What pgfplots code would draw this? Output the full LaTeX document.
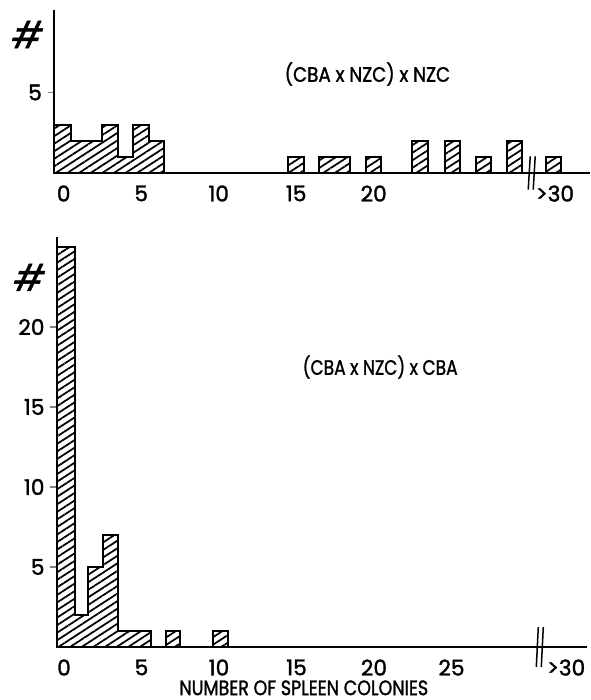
\documentclass[border=0pt]{standalone}
\usepackage{pgfplots}
\pgfplotsset{compat=1.18}
\usetikzlibrary{patterns.meta}
\usepackage{fontspec}
\setmainfont{Poppins}[UprightFeatures={FakeBold=1.5}]
\begin{document}
\begin{tikzpicture}
\useasboundingbox (-38.2pt,-31.8pt) rectangle (315.8pt,388.2pt);
\tikzset{hatch/.style={draw=black, line width=1.2pt,
  pattern={Lines[angle=33, distance=3.8pt, line width=1.05pt]}, pattern color=black}}
\pgfplotsset{
  every axis/.append style={
    axis x line=bottom, axis y line=left,
    axis line style={-, line width=1.1pt},
    x=9.3pt, clip=false,
    /pgf/number format/assume math mode=true,
    tick label style={font=\fontsize{13}{14}\selectfont},
    xtick style={draw=none},
    ytick style={line width=1pt},
    tick align=outside, major tick length=4pt,
    ymin=0, anchor=origin,
  }
}
% ---------------- top panel ----------------
\begin{axis}[at={(0,284.4pt)}, y=9.66pt,
  xmin=-0.6, xmax=33.97, ymax=10.1,
  ytick={5},
  xtick={0,5,10,15,20,31.7},
  xticklabels={0,5,10,15,20,{>30}},
]
\addplot[hatch, const plot] coordinates {(-0.6,3)(0.5,2)(1.5,2)(2.5,3)(3.5,1)(4.5,3)(5.5,2)(6.5,2)} \closedcycle;
\addplot[hatch, const plot] coordinates {(14.5,1)(15.5,1)} \closedcycle;
\addplot[hatch, const plot] coordinates {(16.5,1)(17.5,1)(18.5,1)} \closedcycle;
\addplot[hatch, const plot] coordinates {(19.5,1)(20.5,1)} \closedcycle;
\addplot[hatch, const plot] coordinates {(22.5,2)(23.5,2)} \closedcycle;
\addplot[hatch, const plot] coordinates {(24.6,2)(25.6,2)} \closedcycle;
\addplot[hatch, const plot] coordinates {(26.6,1)(27.6,1)} \closedcycle;
\addplot[hatch, const plot] coordinates {(28.6,2)(29.6,2)} \closedcycle;
\addplot[hatch, const plot] coordinates {(31.1,1)(32.1,1)} \closedcycle;
\draw[line width=0.9pt] ([xshift=-1.2pt,yshift=-10pt]axis cs:30.1,0) -- ++(1.2pt,20pt);
\draw[line width=0.9pt] ([xshift=1.8pt,yshift=-10pt]axis cs:30.1,0) -- ++(1.2pt,20pt);
\node[font=\fontsize{12.5}{14}\selectfont, xscale=0.88] at (axis cs:19.6,6.15) {(CBA x NZC) x NZC};
\node[font=\fontsize{22}{24}\selectfont, xslant=0.25] at (axis cs:-2.3,8.6) {\#};
\end{axis}
% ---------------- bottom panel ----------------
\begin{axis}[at={(0.2pt,0pt)}, y=9.6pt,
  xmin=-0.45, xmax=33.74, ymax=25.6,
  ytick={5,10,15,20},
  xtick={0,5,10,15,20,25,32.4},
  xticklabels={0,5,10,15,20,25,{>30}},
  xlabel={NUMBER OF SPLEEN COLONIES},
  xlabel style={font=\fontsize{12.5}{14}\selectfont, xscale=0.84, yshift=4pt, xshift=-13pt},
]
\addplot[hatch, const plot] coordinates {(-0.45,25)(0.7,2)(1.55,5)(2.5,7)(3.5,1)(4.5,1)(5.6,1)} \closedcycle;
\addplot[hatch, const plot] coordinates {(6.6,1)(7.5,1)} \closedcycle;
\addplot[hatch, const plot] coordinates {(9.6,1)(10.6,1)} \closedcycle;
\draw[line width=0.9pt] ([xshift=-1.2pt,yshift=-12pt]axis cs:30.6,0) -- ++(1.2pt,24pt);
\draw[line width=0.9pt] ([xshift=1.8pt,yshift=-12pt]axis cs:30.6,0) -- ++(1.2pt,24pt);
\node[font=\fontsize{12.5}{14}\selectfont, xscale=0.82] at (axis cs:20.4,17.5) {(CBA x NZC) x CBA};
\node[font=\fontsize{22}{24}\selectfont, xslant=0.25] at (axis cs:-2.2,23.1) {\#};
\end{axis}
\end{tikzpicture}
\end{document}
